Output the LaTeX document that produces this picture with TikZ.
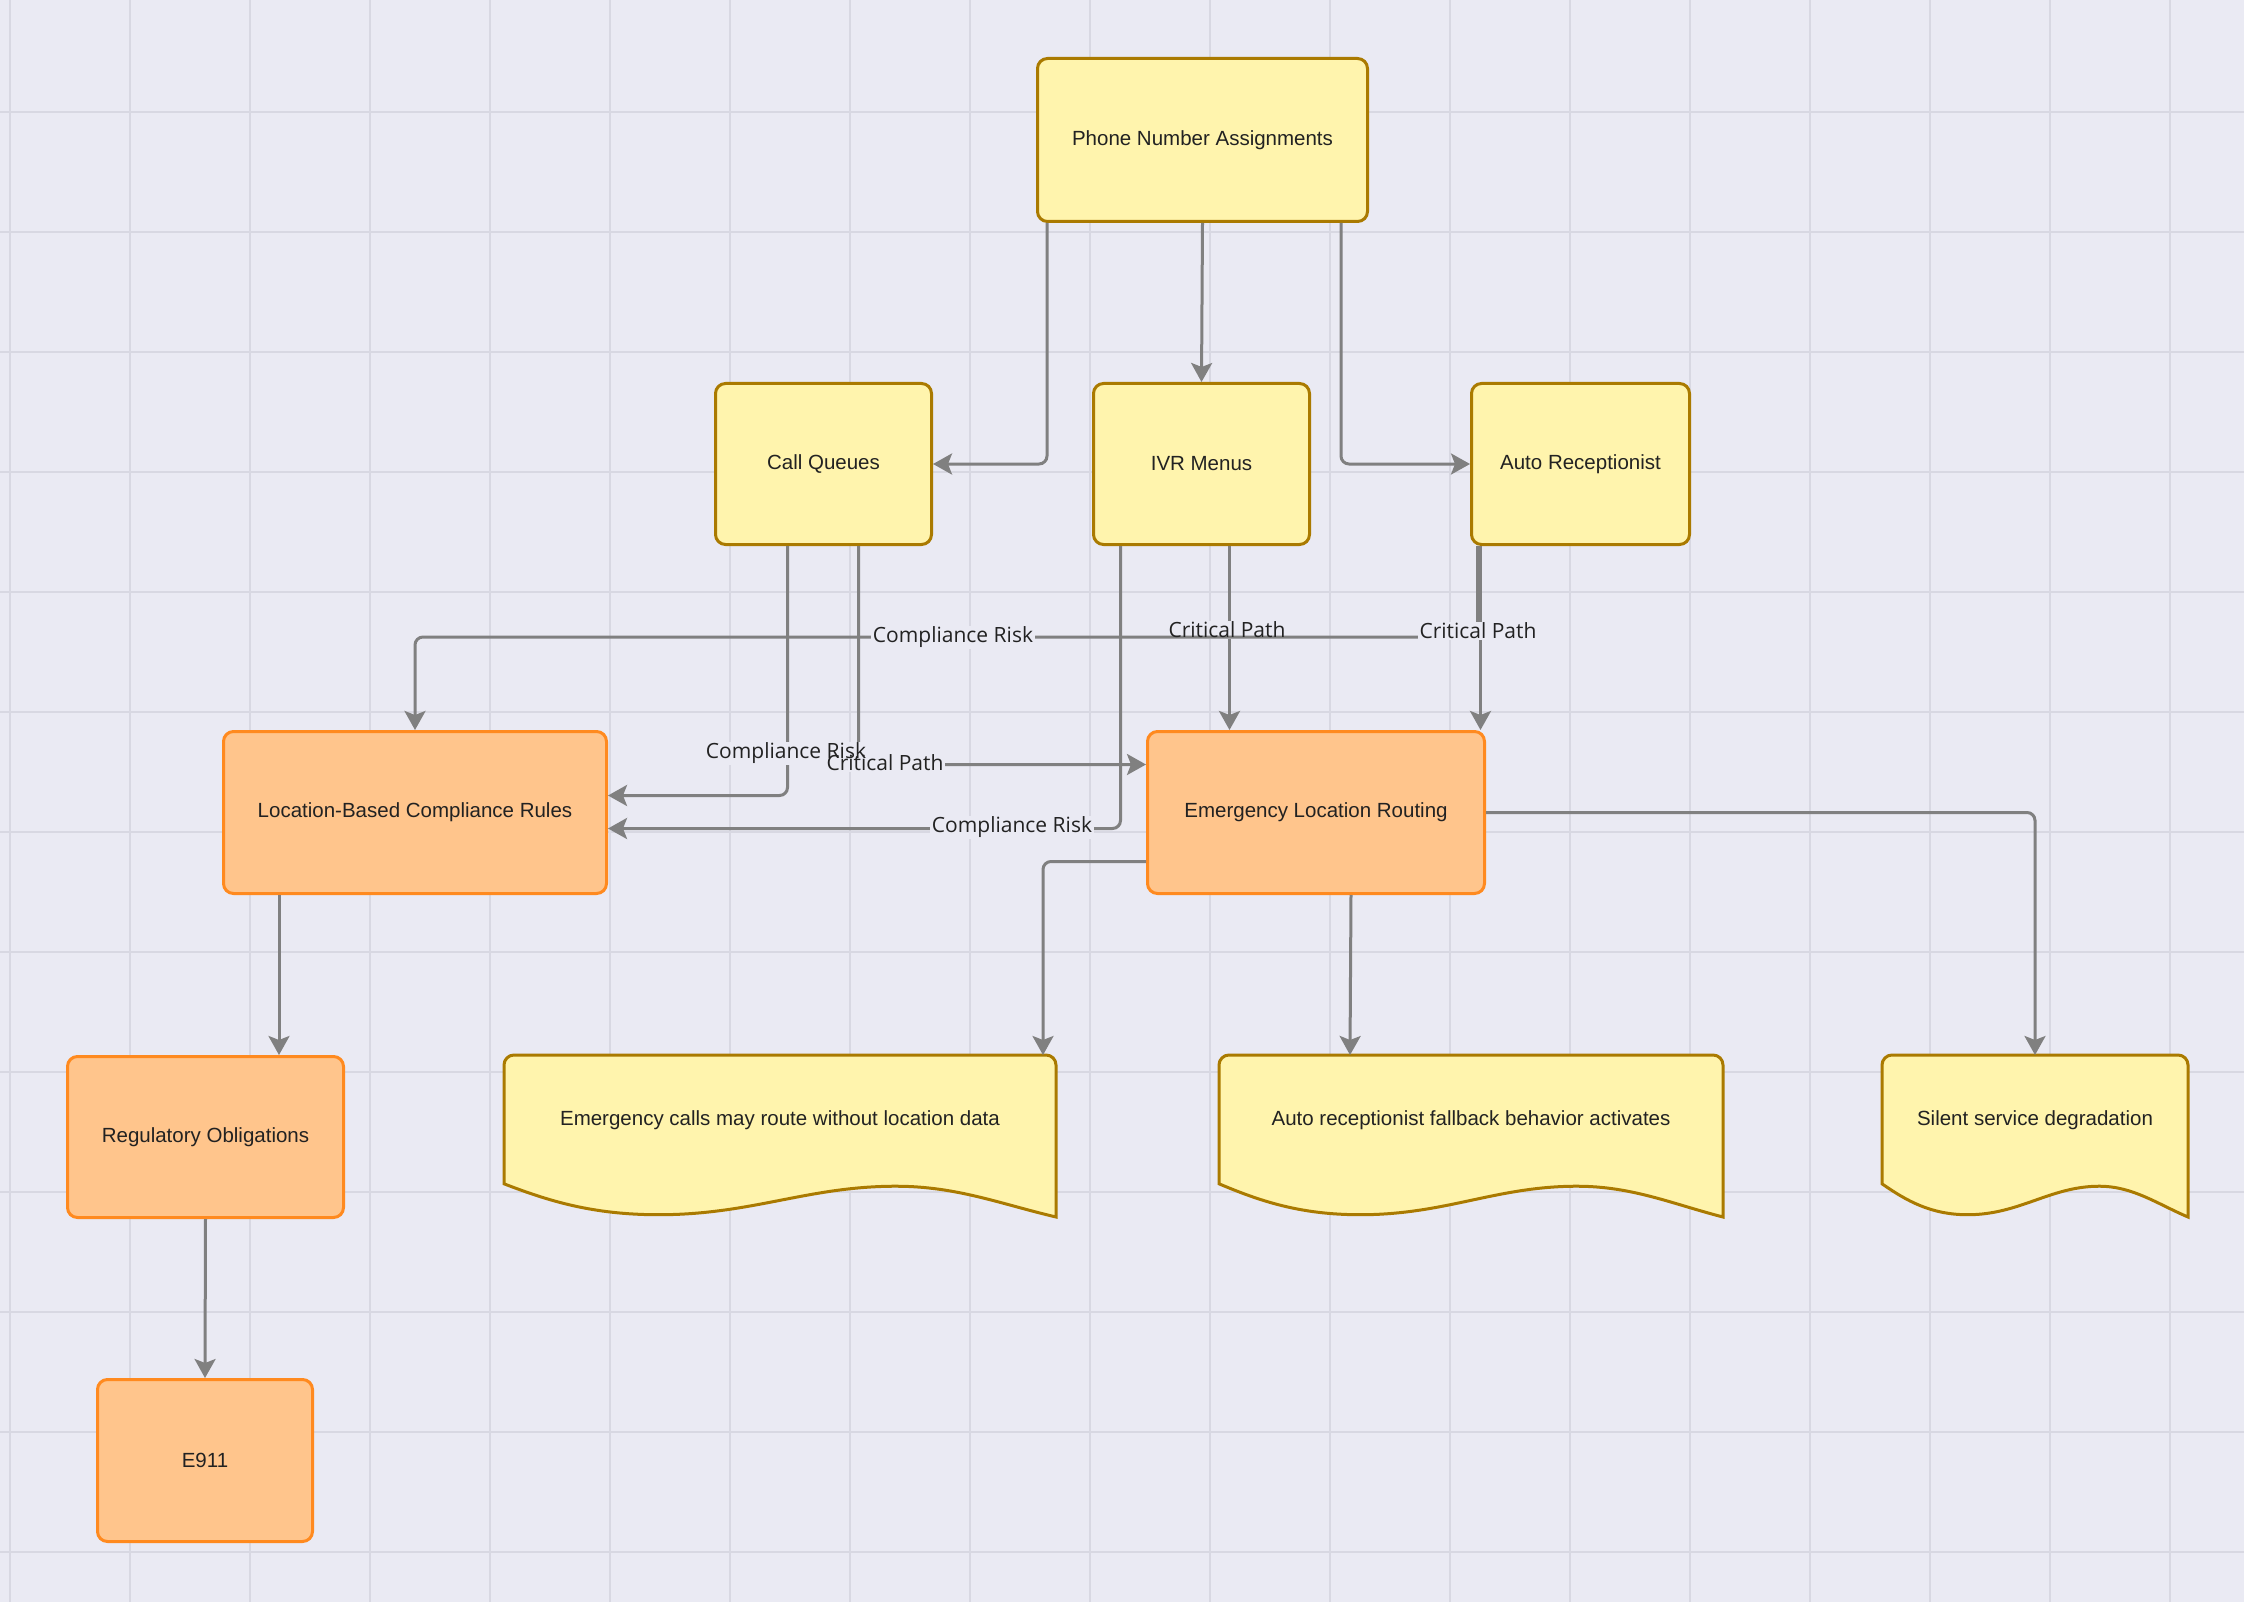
\documentclass[tikz,border=0pt]{standalone}
\usepackage{fontspec}
\setmainfont{Liberation Sans}
\newfontfamily\lblfont{Open Sans}
\usetikzlibrary{arrows.meta,calc}
\definecolor{bgc}{HTML}{EAEAF3}
\definecolor{gridc}{HTML}{D8D8E2}
\definecolor{yfill}{HTML}{FFF4AD}
\definecolor{ystroke}{HTML}{AA7A00}
\definecolor{ofill}{HTML}{FFC58C}
\definecolor{ostroke}{HTML}{FF8A1F}
\definecolor{edgec}{HTML}{808080}
\definecolor{txt}{HTML}{222222}
\newcommand{\mydoc}[4]{%
  \draw[docshape] (#1,{#2+0.795*#4}) -- (#1,{#2+10})
    arc[start angle=180,end angle=270,radius=10]
    -- ({#1+#3-10},#2) arc[start angle=270,end angle=360,radius=10]
    -- ({#1+#3},{#2+#4})
    .. controls ({#1+0.9*#3},{#2+0.92*#4}) and ({#1+0.82*#3},{#2+0.81*#4}) .. ({#1+0.71*#3},{#2+0.81*#4})
    .. controls ({#1+0.55*#3},{#2+0.81*#4}) and ({#1+0.45*#3},{#2+0.986*#4}) .. ({#1+0.28*#3},{#2+0.986*#4})
    .. controls ({#1+0.16*#3},{#2+0.986*#4}) and ({#1+0.08*#3},{#2+0.9*#4}) .. (#1,{#2+0.795*#4}) -- cycle;}
\begin{document}
\begin{tikzpicture}[x=1pt,y=-1pt,
  base/.style={rectangle, rounded corners=10pt, line width=3pt, inner sep=0pt, anchor=north west, text=txt, font=\fontsize{20.5}{24}\selectfont},
  ynode/.style={base, fill=yfill, draw=ystroke},
  onode/.style={base, fill=ofill, draw=ostroke},
  docshape/.style={fill=yfill, draw=ystroke, line width=3pt},
  doctext/.style={text=txt, font=\fontsize{20.5}{24}\selectfont, inner sep=0pt},
  edge/.style={draw=edgec, line width=3pt, rounded corners=8pt, -{Stealth[length=19pt,width=21pt,inset=4pt]}},
  lblbg/.style={fill=bgc, inner xsep=2pt, inner ysep=1pt, font=\lblfont\fontsize{21}{24}\selectfont},
  lbl/.style={text=txt, inner xsep=2pt, inner ysep=1pt, font=\lblfont\fontsize{21}{24}\selectfont},
  gridline/.style={draw=gridc, line width=2pt}
]
\useasboundingbox (0,0) rectangle (2244,1602);
\fill[bgc] (0,0) rectangle (2244,1602);
\foreach \i in {0,...,18} \draw[gridline] ({10+120*\i},0) -- ({10+120*\i},1602);
\foreach \j in {0,...,12} \draw[gridline] (0,{112+120*\j}) -- (2244,{112+120*\j});

% nodes
\node[ynode, minimum width=330pt, minimum height=163pt] (pna) at (1036,57) {Phone Number Assignments};
\node[ynode, minimum width=216pt, minimum height=161pt] (cq) at (714,382) {Call Queues};
\node[ynode, minimum width=216pt, minimum height=161pt] (ivr) at (1092,382) {IVR Menus};
\node[ynode, minimum width=218pt, minimum height=161pt] (ar) at (1470,382) {Auto Receptionist};
\node[onode, minimum width=383pt, minimum height=162pt] (lbcr) at (222,730) {Location-Based Compliance Rules};
\node[onode, minimum width=337pt, minimum height=162pt] (elr) at (1146,730) {Emergency Location Routing};
\node[onode, minimum width=276pt, minimum height=161pt] (ro) at (66,1055) {Regulatory Obligations};
\node[onode, minimum width=215pt, minimum height=162pt] (e911) at (96,1378) {E911};

% document shapes
\mydoc{504}{1055}{552}{162}
\mydoc{1219}{1055}{504}{162}
\mydoc{1882}{1055}{306}{162}
\node[doctext] (d1) at (780,1120) {Emergency calls may route without location data};
\node[doctext] (d2) at (1471,1120) {Auto receptionist fallback behavior activates};
\node[doctext] (d3) at (2035,1120) {Silent service degradation};
\coordinate (d1top) at (1043,1055);
\coordinate (d2top) at (1350,1055);
\coordinate (d3top) at (2035,1055);
\coordinate (c9) at (lbcr.north |- 0,637);

% edges
\draw[edge] ([xshift=11pt]pna.south west) |- (cq.east);
\draw[edge] (pna.south) -- (ivr.north);
\draw[edge] ([xshift=-28pt]pna.south east) |- (ar.west);
\draw[edge] ([xshift=-36pt]cq.south) |- ([yshift=17pt]lbcr.east);
\draw[edge] ([xshift=35pt]cq.south) |- ([yshift=48pt]elr.west);
\draw[edge] ([xshift=-81pt]ivr.south) |- ([yshift=-16pt]lbcr.east);
\draw[edge] ([xshift=28pt]ivr.south) -- ([xshift=28pt]ivr.south |- elr.north);
\draw[edge] ([xshift=-100pt]ar.south) -- ([xshift=-100pt]ar.south |- elr.north);
\draw[edge] ([xshift=-136pt]lbcr.south) -- ([xshift=-136pt]lbcr.south |- ro.north);
\draw[edge] (ro.south) -- (e911.north);
\draw[edge] ([yshift=-49pt]elr.west) -| (d1top);
\draw[edge] ([xshift=35pt]elr.south) -- (d2top);
\draw[edge] (elr.east) -| (d3top);

\node[lblbg] (l7) at (1227,630) {\phantom{Critical Path}};
\draw[edge] ([xshift=-103pt]ar.south) |- (c9) -- (lbcr.north);

% label backgrounds
\node[lblbg] (l4) at (786,753) {\phantom{Compliance Risk}};
\node[lblbg] (l5) at (885,763) {\phantom{Critical Path}};
\node[lblbg] (l6) at (1012,827) {\phantom{Compliance Risk}};
\node[lblbg] (l8) at (1478,631) {\phantom{Critical Path}};
\node[lblbg] (l9) at (953,637) {\phantom{Compliance Risk}};
% label texts
\node[lbl] (t4) at (l4) {Compliance Risk};
\node[lbl] (t5) at (l5) {Critical Path};
\node[lbl] (t6) at (l6) {Compliance Risk};
\node[lbl] (t7) at (l7) {Critical Path};
\node[lbl] (t8) at (l8) {Critical Path};
\node[lbl] (t9) at (l9) {Compliance Risk};
\end{tikzpicture}
\end{document}
